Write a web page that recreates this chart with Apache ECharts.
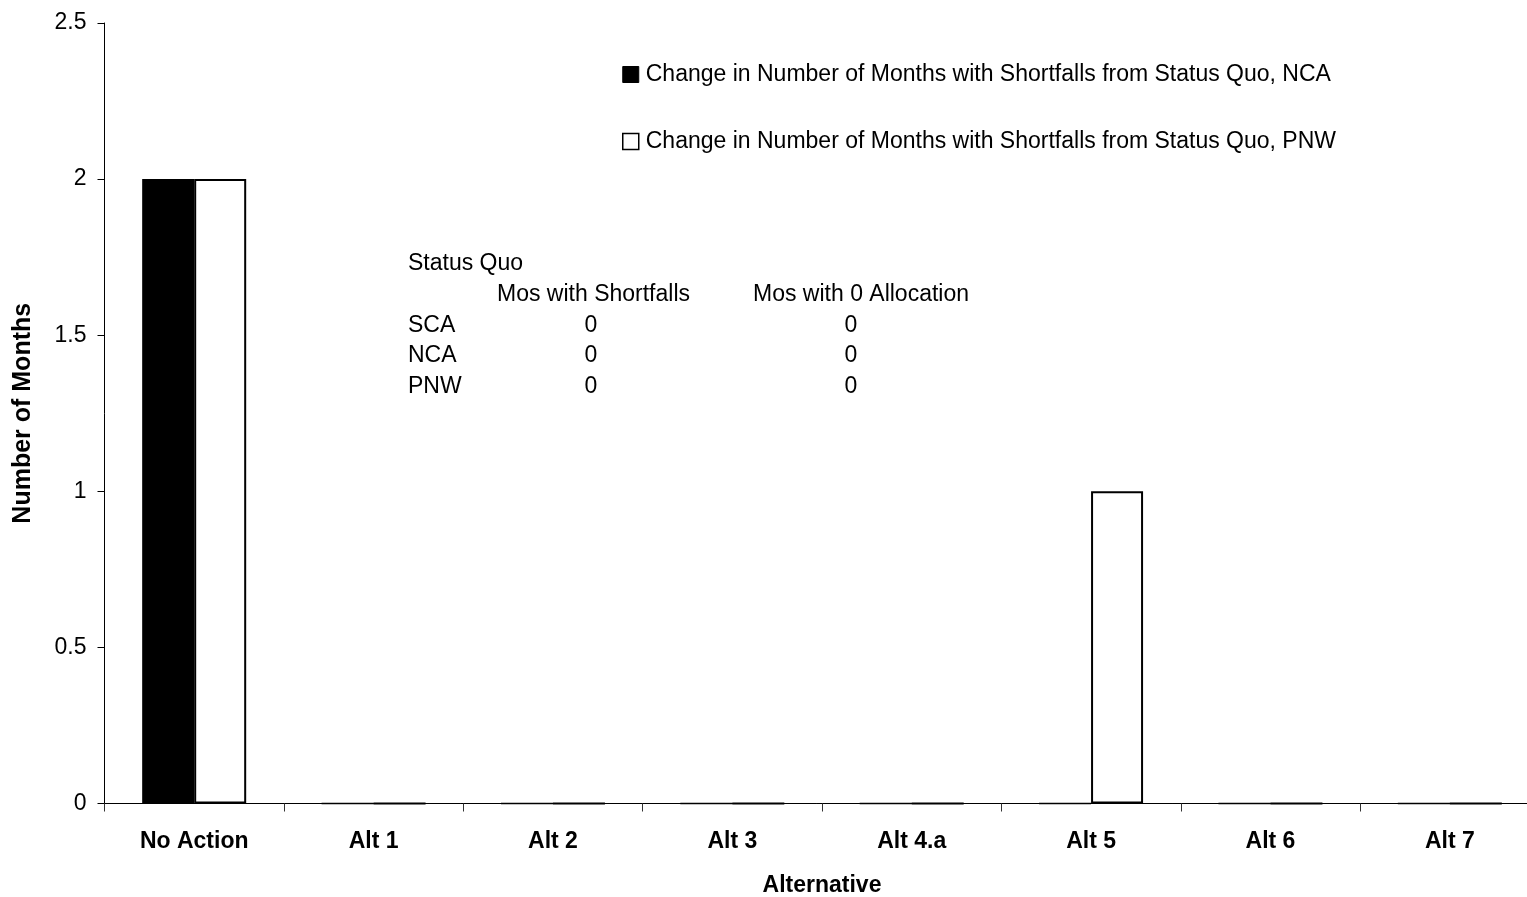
<!DOCTYPE html>
<html>
<head>
<meta charset="utf-8">
<script src="https://cdn.jsdelivr.net/npm/echarts@6/dist/echarts.min.js"></script>
<style>html,body{margin:0;padding:0;background:#fff;}#c{width:1527px;height:897px;}</style>
</head>
<body>
<div id="c"></div>
<script>
const categories = ['No Action', 'Alt 1', 'Alt 2', 'Alt 3', 'Alt 4.a', 'Alt 5', 'Alt 6', 'Alt 7'];
const seriesNames = ['Change in Number of Months with Shortfalls from Status Quo, NCA',
                     'Change in Number of Months with Shortfalls from Status Quo, PNW'];
const ncaValues = [2, 0, 0, 0, 0, 0, 0, 0];
const pnwValues = [2, 0, 0, 0, 0, 1, 0, 0];
const yTicks = [0, 0.5, 1, 1.5, 2, 2.5];
const tableTitle = 'Status Quo';
const tableHeaders = ['Mos with Shortfalls', 'Mos with 0 Allocation'];
const tableRegions = ['SCA', 'NCA', 'PNW'];
const tableShortfalls = [0, 0, 0];
const tableZeroAlloc = [0, 0, 0];

const FONT = 'Liberation Sans, Arial, sans-serif';
const FS = 23;
const chart = echarts.init(document.getElementById('c'), null, {renderer: 'canvas'});

const gfx = [];
function txt(x, y, text, align) {
  gfx.push({type: 'text', x: x, y: y, silent: true,
    style: {text: text, fontFamily: FONT, fontSize: FS, fill: '#000', align: align || 'left', verticalAlign: 'middle'}});
}
txt(408, 264, tableTitle);
txt(497, 295, tableHeaders[0]);
txt(753, 295, tableHeaders[1]);
tableRegions.forEach((r, i) => {
  const y = 325.5 + i * 30.5;
  txt(408, y, r);
  txt(591, y, String(tableShortfalls[i]), 'center');
  txt(851, y, String(tableZeroAlloc[i]), 'center');
});

chart.setOption({
  animation: false,
  backgroundColor: '#fff',
  textStyle: {fontFamily: FONT},
  grid: {left: 104.5, top: 23, width: 1435, height: 780.5, containLabel: false, outerBoundsMode: 'none'},
  legend: {
    orient: 'vertical', left: 622, top: 63, padding: 0,
    itemWidth: 16, itemHeight: 16, itemGap: 44,
    textStyle: {fontFamily: FONT, fontSize: FS, color: '#000', lineHeight: 23, padding: [0, 0, 0, 2]},
    data: [
      {name: seriesNames[0], icon: 'rect', itemStyle: {color: '#000', borderColor: '#000', borderWidth: 1}},
      {name: seriesNames[1], icon: 'rect', itemStyle: {color: '#fff', borderColor: '#000', borderWidth: 1.5}}
    ]
  },
  xAxis: {
    type: 'category', data: categories,
    name: 'Alternative', nameLocation: 'middle', nameGap: 71,
    nameTextStyle: {fontFamily: FONT, fontSize: 23, fontWeight: 'bold', color: '#000'},
    axisLine: {lineStyle: {color: '#000', width: 1}},
    axisTick: {show: true, alignWithLabel: false, length: 8, lineStyle: {color: '#333'}},
    axisLabel: {fontFamily: FONT, fontSize: 23, fontWeight: 'bold', color: '#000', margin: 27, interval: 0},
    splitLine: {show: false}
  },
  yAxis: {
    type: 'value', min: 0, max: 2.5, interval: 0.5,
    name: 'Number of Months', nameLocation: 'middle', nameGap: 69, nameRotate: 90,
    nameTextStyle: {fontFamily: FONT, fontSize: 25, fontWeight: 'bold', color: '#000'},
    axisLine: {show: true, lineStyle: {color: '#000', width: 1}},
    axisTick: {show: true, inside: false, length: 7, lineStyle: {color: '#000'}},
    axisLabel: {fontFamily: FONT, fontSize: 23, color: '#000', margin: 18,
      formatter: v => yTicks.indexOf(v) >= 0 ? String(v) : ''},
    splitLine: {show: false}
  },
  series: [
    {name: seriesNames[0], type: 'bar', data: ncaValues, barWidth: 52, barGap: '0%',
     itemStyle: {color: '#000', borderColor: '#000', borderWidth: 1.5}},
    {name: seriesNames[1], type: 'bar', data: pnwValues, barWidth: 52, barGap: '0%',
     itemStyle: {color: '#fff', borderColor: '#000', borderWidth: 2}}
  ],
  graphic: gfx
});
</script>
</body>
</html>
